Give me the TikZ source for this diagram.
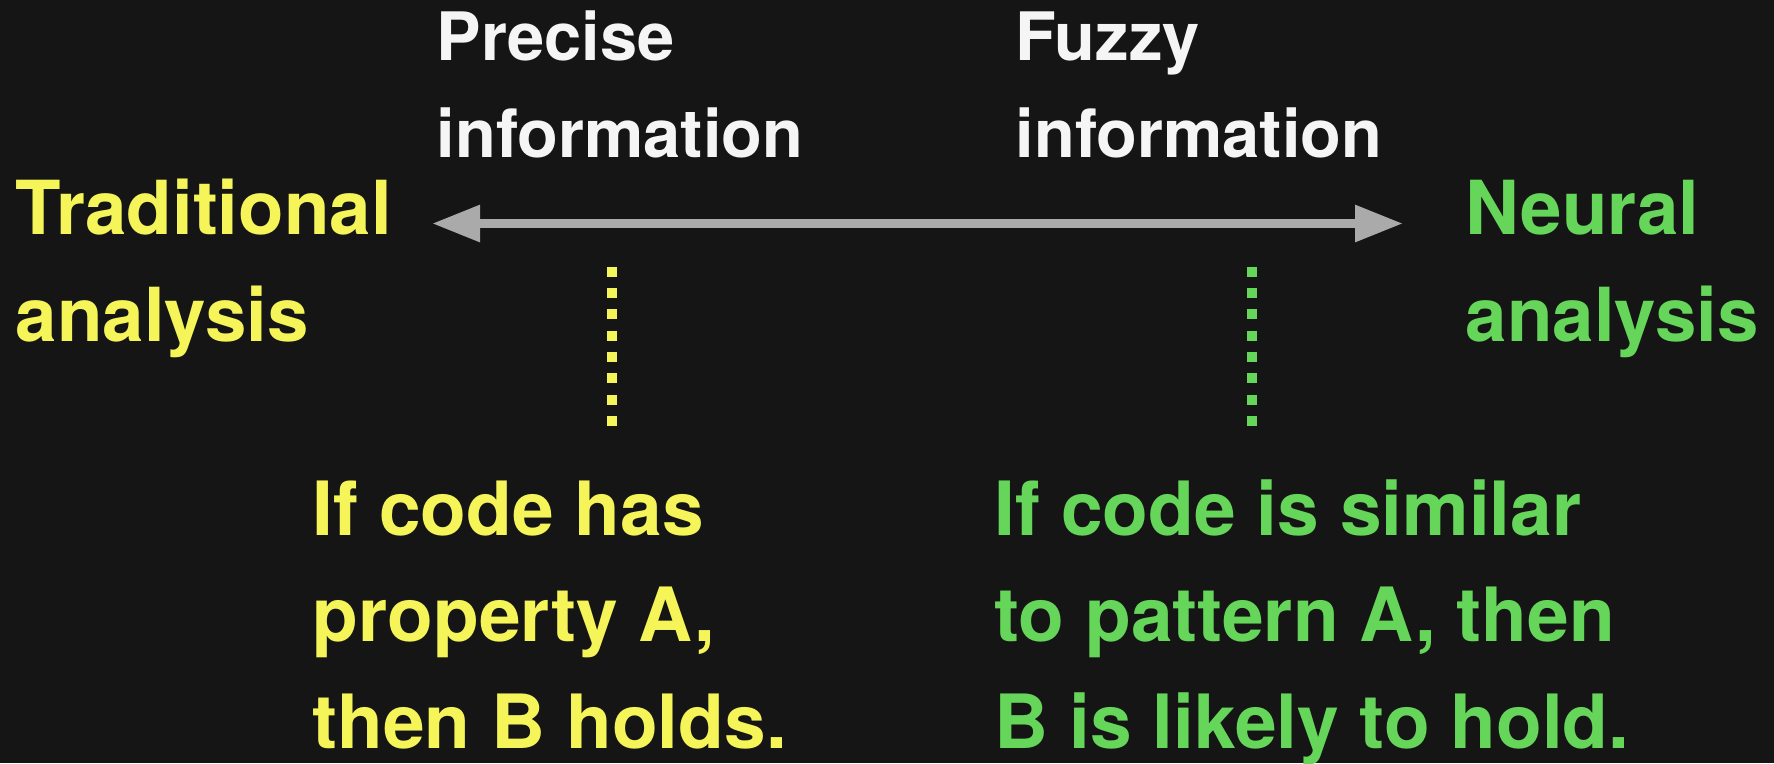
\documentclass[tikz,border=0pt]{standalone}
\usepackage{fontspec}
\setmainfont{TeX Gyre Heros}
\usetikzlibrary{arrows.meta}

\definecolor{bg}{HTML}{151515}
\definecolor{tradyellow}{HTML}{F5F55A}
\definecolor{neuralgreen}{HTML}{66D65A}
\definecolor{axisgray}{HTML}{AAAAAA}
\definecolor{labelwhite}{HTML}{F5F5F5}

\begin{document}
\begin{tikzpicture}[x=0.1mm, y=-0.1mm,
        headlabel/.style={anchor=base west, inner sep=0pt, align=left, text=labelwhite,
            font=\fontsize{19}{27.6}\selectfont\bfseries},
        sidelabel/.style={anchor=base west, inner sep=0pt, align=left,
            font=\fontsize{21.2}{30.2}\selectfont\bfseries},
        rulelabel/.style={anchor=base west, inner sep=0pt, align=left,
            font=\fontsize{21.3}{30.3}\selectfont\bfseries},
        axistip/.tip={Triangle[length=4.8mm, width=3.5mm]},
        dots/.style={line width=1mm, dash pattern=on 1mm off 1.13mm}]
        \useasboundingbox (0,0) rectangle (1774,763);
        \fill[bg] (0,0) rectangle (1774,763);

        % base anchor sits on the last line of each label
        \node[headlabel] (precise) at (436,157) {Precise\\information};
        \node[headlabel] (fuzzy) at (1015,157) {Fuzzy\\information};
        \node[sidelabel, text=tradyellow] (trad) at (15,341) {Traditional\\analysis};
        \node[sidelabel, text=neuralgreen] (neural) at (1465,341) {Neural\\analysis};
        \node[rulelabel, text=tradyellow] (traditional rule) at (312,748) {If code has\\property A,\\then B holds.};
        \node[rulelabel, text=neuralgreen] (neural rule) at (994,748) {If code is similar\\to pattern A, then\\B is likely to hold.};

        \coordinate (exact end) at (432,223.5);
        \coordinate (fuzzy end) at (1403,223.5);
        \draw[axisgray, line width=0.9mm, axistip-axistip] (exact end) -- (fuzzy end);

        \coordinate (exact top) at (612,266.7);
        \coordinate (exact bottom) at (612,427);
        \coordinate (fuzzy top) at (1252,266.7);
        \coordinate (fuzzy bottom) at (1252,427);
        \draw[tradyellow, dots] (exact top) -- (exact bottom);
        \draw[neuralgreen, dots] (fuzzy top) -- (fuzzy bottom);
    \end{tikzpicture}
\end{document}
